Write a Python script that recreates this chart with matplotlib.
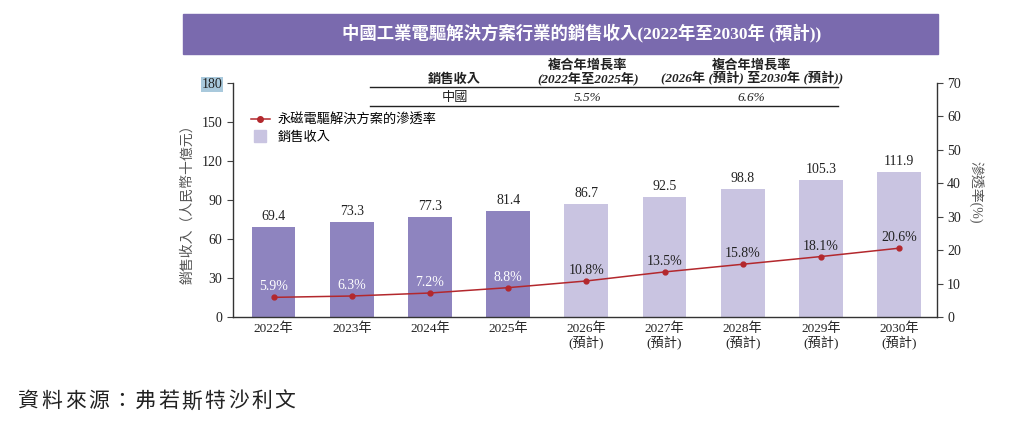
import matplotlib
matplotlib.use("Agg")
import matplotlib.pyplot as plt
from matplotlib.patches import Rectangle
from matplotlib.lines import Line2D

plt.rcParams['font.family'] = ['Liberation Serif', 'Noto Sans CJK TC']

# data
years = ["2022年", "2023年", "2024年", "2025年", "2026年\n(預計)", "2027年\n(預計)",
         "2028年\n(預計)", "2029年\n(預計)", "2030年\n(預計)"]
revenue = [69.4, 73.3, 77.3, 81.4, 86.7, 92.5, 98.8, 105.3, 111.9]
penetration = [5.9, 6.3, 7.2, 8.8, 10.8, 13.5, 15.8, 18.1, 20.6]
n_actual = 4

title = "中國工業電驅解決方案行業的銷售收入(2022年至2030年 (預計))"
table_head = ["銷售收入", "複合年增長率\n(2022年至2025年)", "複合年增長率\n(2026年 (預計) 至2030年 (預計))"]
table_row = ["中國", "5.5%", "6.6%"]
source = "資料來源：弗若斯特沙利文"

dark = "#8e84bf"
light = "#c9c4e1"
red = "#b3282d"
purple = "#7a6aae"
txt = "#222222"
fs = 9.5

fig = plt.figure(figsize=(10.17, 4.32), dpi=100)
ax = fig.add_axes([0.229, 0.266, 0.692, 0.542])
ax2 = ax.twinx()

x = list(range(len(years)))
colors = [dark if i < n_actual else light for i in x]
ax.bar(x, revenue, width=0.56, color=colors, zorder=2)
for i, v in enumerate(revenue):
    ax.text(i, v + 3, f"{v:.1f}", ha="center", va="bottom", fontsize=fs + 0.5, color=txt)

ax2.plot(x, penetration, color=red, lw=1.1, marker="o", ms=3.5, zorder=3)
for i, p in enumerate(penetration):
    ax2.text(i, p + 1.2, f"{p:.1f}%", ha="center", va="bottom", fontsize=fs + 0.5,
             color="white" if i < n_actual else txt, zorder=4)

ax.set_xlim(-0.52, 8.48)
ax.set_ylim(0, 180)
ax.set_yticks(range(0, 181, 30))
ax2.set_ylim(0, 70)
ax2.set_yticks(range(0, 71, 10))
ax.set_xticks(x)
ax.set_xticklabels(years, fontsize=fs, color=txt, linespacing=1.05)
ax.tick_params(axis="x", length=0, pad=4)
ax.tick_params(axis="y", labelsize=fs + 0.5, labelcolor=txt, length=4, color="#444444")
ax2.tick_params(axis="y", labelsize=fs + 0.5, labelcolor=txt, length=4, color="#444444")

for a in (ax, ax2):
    a.spines["top"].set_visible(False)
    for s in ("left", "right", "bottom"):
        a.spines[s].set_color("#333333")
        a.spines[s].set_linewidth(1.0)
ax.spines["right"].set_visible(False)
ax2.spines["left"].set_visible(False)
ax2.spines["bottom"].set_visible(False)

fig.text(0.184, 0.535, "銷售收入（人民幣十億元）", rotation=90, fontsize=fs + 0.5,
         color="#555555", ha="center", va="center")
fig.text(0.959, 0.556, "滲透率(%)", rotation=-90, fontsize=fs + 0.5,
         color="#555555", ha="center", va="center")

# highlight artefact on 180 tick label
for lbl in ax.get_yticklabels():
    if lbl.get_text() == "180":
        lbl.set_bbox(dict(facecolor="#a9c9dc", edgecolor="none", pad=0.5))

# legend
handles = [Line2D([0], [0], color=red, lw=1.1, marker="o", ms=4),
           Line2D([0], [0], color=light, lw=0, marker="s", ms=8)]
ax.legend(handles, ["永磁電驅解決方案的滲透率", "銷售收入"], loc="upper left",
          bbox_to_anchor=(0.026, 0.868), frameon=False, fontsize=fs,
          handlelength=1.4, handletextpad=0.6, labelspacing=0.35,
          borderpad=0, borderaxespad=0)

# title banner
fig.patches.append(Rectangle((0.180, 0.875), 0.742, 0.092, transform=fig.transFigure,
                             color=purple, zorder=0))
fig.text(0.572, 0.921, title, ha="center", va="center", color="white",
         fontsize=12.5, fontweight="bold")

# small table
cols_x = [0.447, 0.578, 0.739]
for cx, h in zip(cols_x, table_head):
    fig.text(cx, 0.802, h, ha="center", va="bottom", fontsize=fs, style="italic",
             fontweight="bold", color=txt, linespacing=1.0)
for cx, r in zip(cols_x, table_row):
    fig.text(cx, 0.774, r, ha="center", va="center", fontsize=fs, style="italic",
             color=txt)
fig.add_artist(Line2D([0.364, 0.824], [0.799, 0.799], color="#222222", lw=1.0))
fig.add_artist(Line2D([0.364, 0.824], [0.754, 0.754], color="#222222", lw=1.0))

# source, spaced out
for k, ch in enumerate(source):
    fig.text(0.018 + k * 0.0229, 0.068, ch, fontsize=15, style="italic",
             color=txt, ha="left", va="center")

fig.savefig("out.png", dpi=100)
